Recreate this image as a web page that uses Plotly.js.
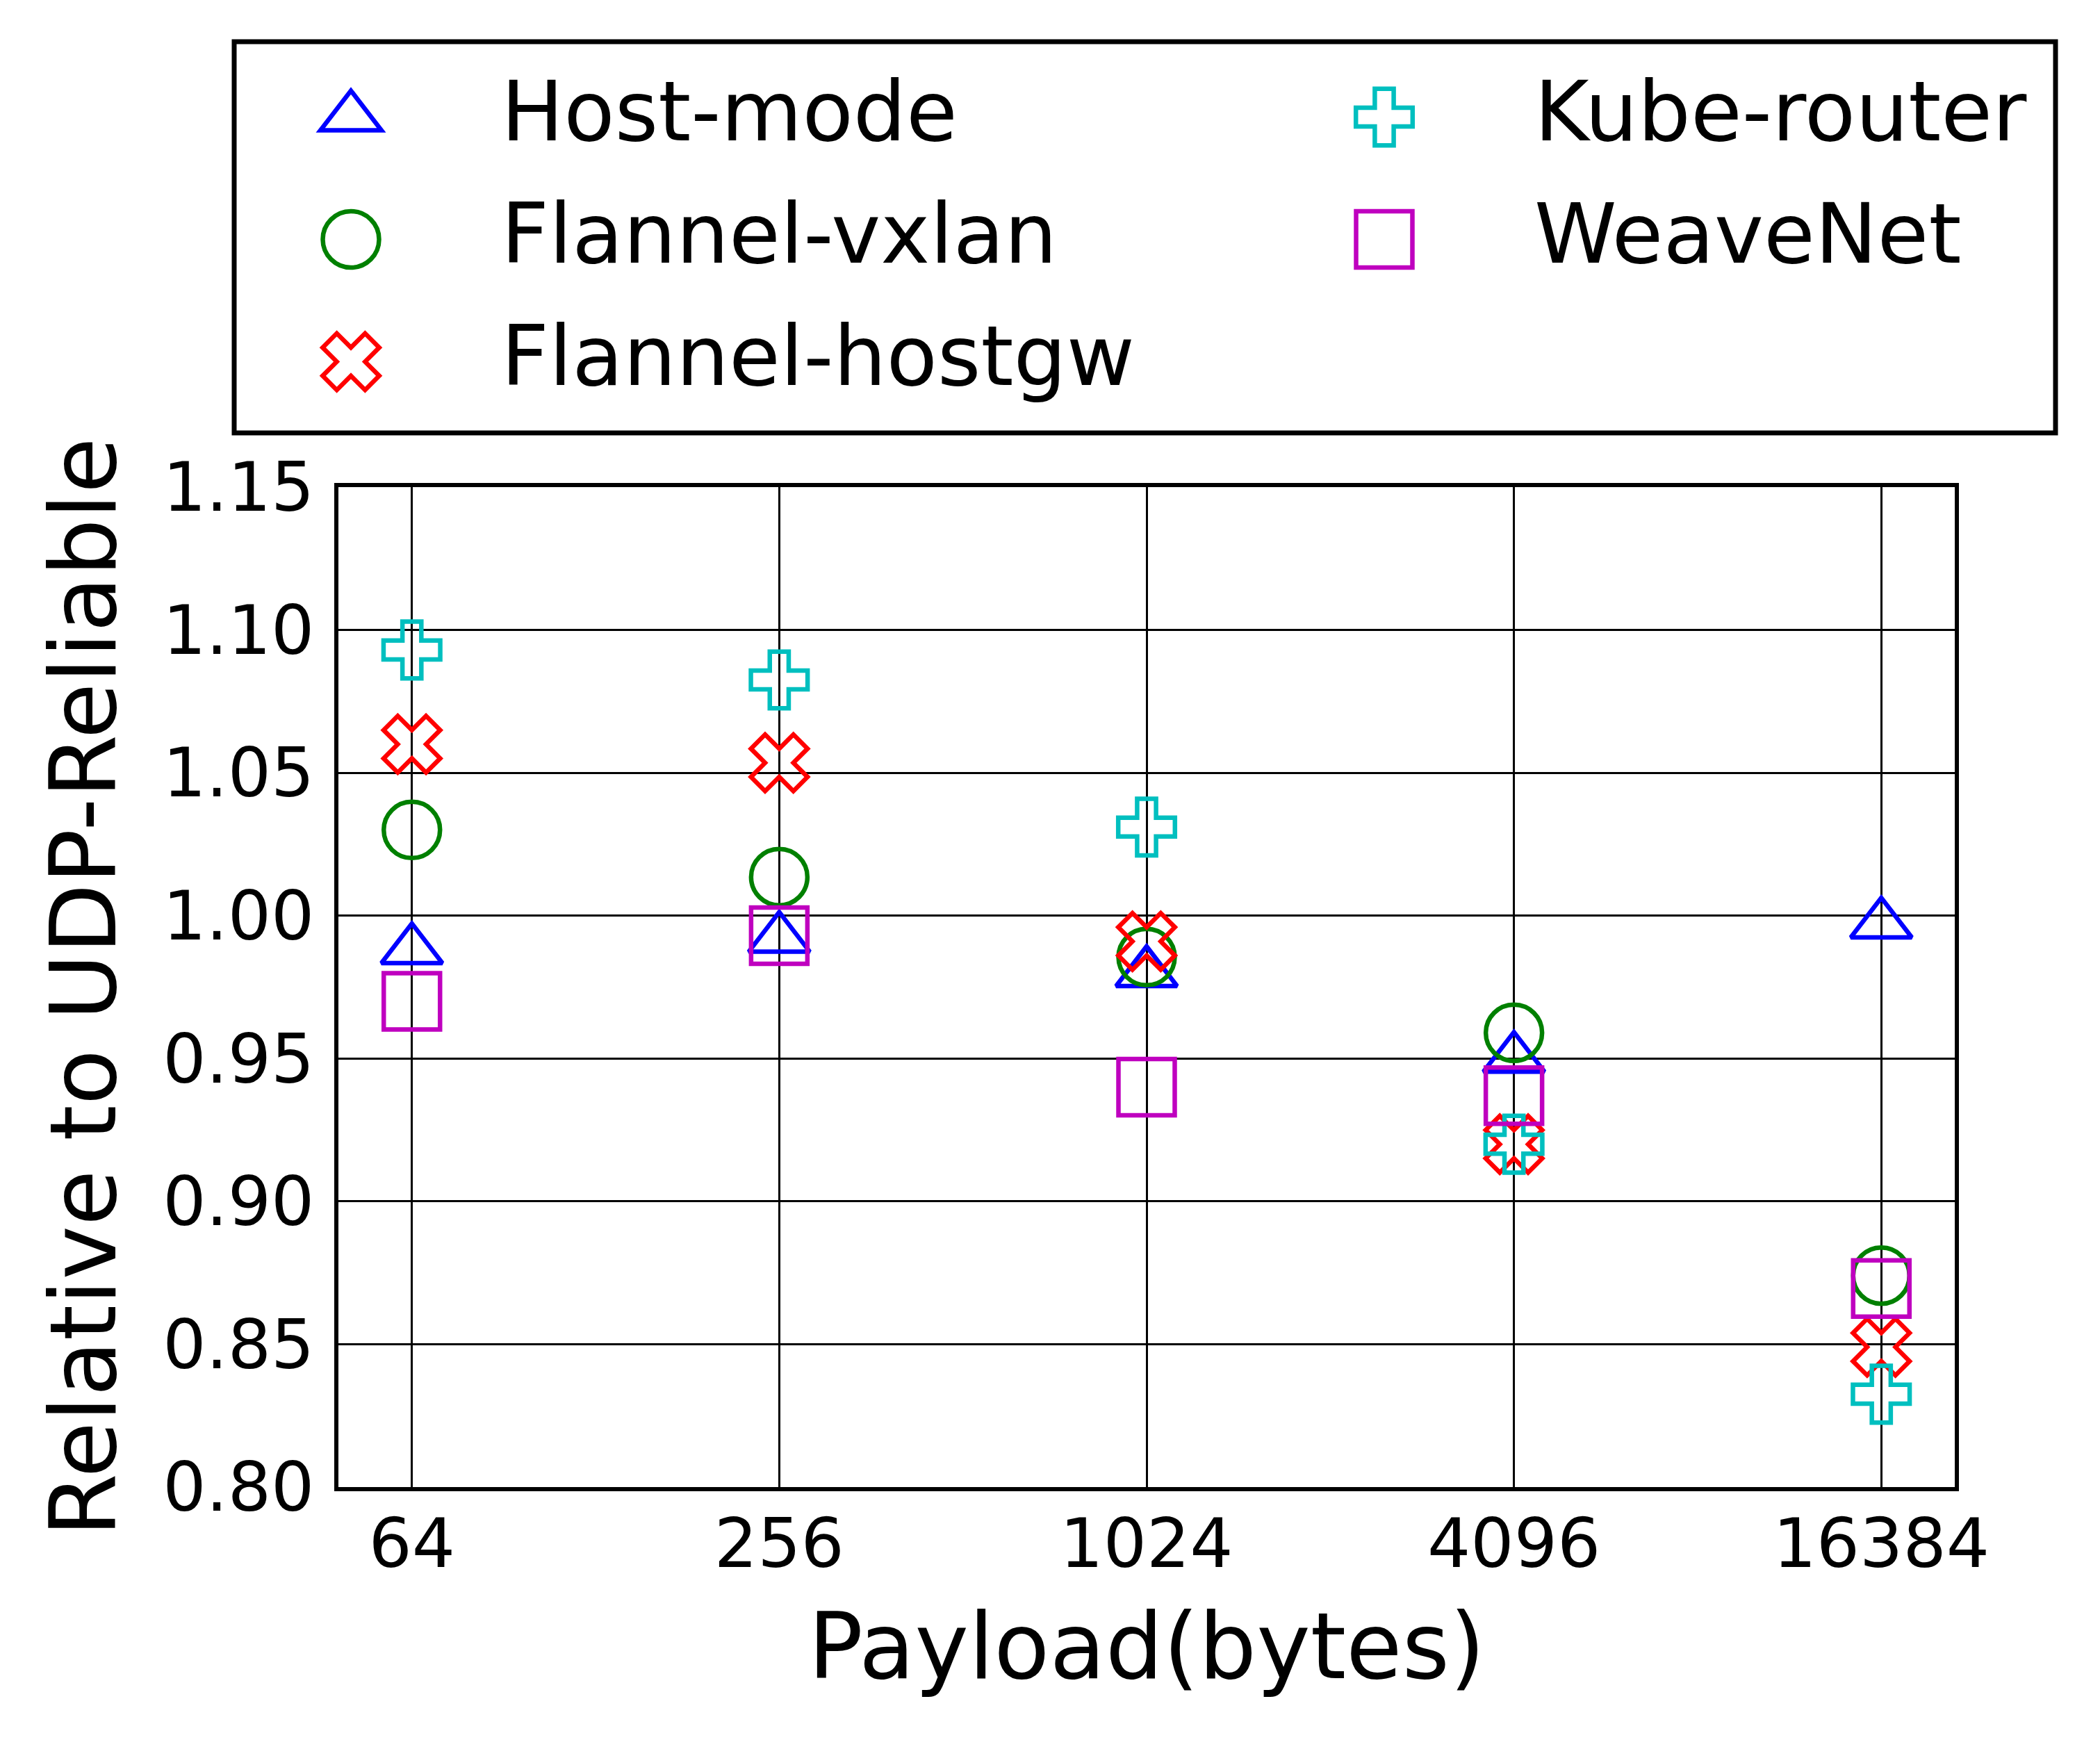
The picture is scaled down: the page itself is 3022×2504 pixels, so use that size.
<!DOCTYPE html>
<html><head><meta charset="utf-8">
<script src="https://cdn.plot.ly/plotly-3.0.1.min.js"></script>
<style>html,body{margin:0;padding:0;background:#fff;}</style>
</head><body>
<div id="chart" style="width:3022px;height:2504px;"></div>
<script>
// ---- data ----
const payloads = ['64', '256', '1024', '4096', '16384'];
const hostMode      = [0.988, 0.992, 0.980, 0.950, 0.997];
const flannelVxlan  = [1.030, 1.0135, 0.9855, 0.959, 0.874];
const flannelHostgw = [1.060, 1.0535, 0.991, 0.920, 0.849];
const kubeRouter    = [1.093, 1.0825, 1.031, 0.920, 0.8325];
const weaveNet      = [0.970, 0.993, 0.940, 0.937, 0.8695];
const seriesNames   = ['Host-mode', 'Flannel-vxlan', 'Flannel-hostgw', 'Kube-router', 'WeaveNet'];
const yTickVals     = [0.80, 0.85, 0.90, 0.95, 1.00, 1.05, 1.10, 1.15];
const xTitle = 'Payload(bytes)';
const yTitle = 'Relative to UDP-Reliable';

const FONT = 'DejaVu Sans, Liberation Sans, sans-serif';
const styles = [
  {symbol: 'triangle-up', size: 76, color: '#0000ff', legend: 'legend'},
  {symbol: 'circle',      size: 81, color: '#008000', legend: 'legend'},
  {symbol: 'x',           size: 72, color: '#ff0000', legend: 'legend'},
  {symbol: 'cross',       size: 68, color: '#00bfbf', legend: 'legend2'},
  {symbol: 'square',      size: 81, color: '#bf00bf', legend: 'legend2'}
];
const values = [hostMode, flannelVxlan, flannelHostgw, kubeRouter, weaveNet];

const traces = values.map((v, i) => ({
  type: 'scatter',
  mode: 'markers',
  name: seriesNames[i],
  x: payloads,
  y: v,
  legend: styles[i].legend,
  legendgroup: 'g' + i,
  marker: {
    symbol: styles[i].symbol,
    size: styles[i].size,
    color: 'rgba(0,0,0,0)',
    line: {color: styles[i].color, width: 6.5}
  },
  cliponaxis: false
}));

const W = 3022, H = 2504;
const L = 487, R = 209, T = 701, B = 364;
const pw = W - L - R, ph = H - T - B;
const px = (X) => (X - L) / pw;
const py = (Y) => (H - B - Y) / ph;

const legendCommon = {
  xanchor: 'left', yanchor: 'top',
  font: {family: FONT, size: 120, color: '#000'},
  itemwidth: 422, tracegroupgap: 17, traceorder: 'grouped',
  bgcolor: 'rgba(0,0,0,0)', borderwidth: 0
};

const layout = {
  width: W, height: H,
  margin: {l: L, r: R, t: T, b: B, autoexpand: false},
  paper_bgcolor: '#fff', plot_bgcolor: '#fff',
  font: {family: FONT, color: '#000'},
  showlegend: true,
  legend: Object.assign({}, legendCommon, {x: px(289), y: py(71)}),
  legend2: Object.assign({}, legendCommon, {x: px(1776), y: py(71)}),
  xaxis: {
    type: 'category', categoryorder: 'array', categoryarray: payloads,
    range: [-0.2, 4.2],
    showgrid: true, gridcolor: '#000', gridwidth: 3,
    showline: true, linecolor: '#000', linewidth: 6, mirror: true,
    ticks: '', ticklabelstandoff: -9,
    tickfont: {family: FONT, size: 98, color: '#000'},
    title: {text: xTitle, font: {family: FONT, size: 131, color: '#000'}, standoff: 49},
    zeroline: false, automargin: false
  },
  yaxis: {
    range: [0.8, 1.15],
    tickvals: yTickVals, tickformat: '.2f',
    showgrid: true, gridcolor: '#000', gridwidth: 3,
    showline: true, linecolor: '#000', linewidth: 6, mirror: true,
    ticks: '', ticklabelstandoff: 9,
    tickfont: {family: FONT, size: 98, color: '#000'},
    title: {text: yTitle, font: {family: FONT, size: 131, color: '#000'}, standoff: 25},
    zeroline: false, automargin: false
  },
  shapes: [{
    type: 'rect', xref: 'paper', yref: 'paper',
    x0: px(337), x1: px(2958), y0: py(623), y1: py(60),
    line: {color: '#000', width: 7}, fillcolor: 'rgba(0,0,0,0)', layer: 'above'
  }]
};

Plotly.newPlot('chart', traces, layout, {staticPlot: true}).then(gd => {
  const plotPaths = {};
  gd.querySelectorAll('.scatterlayer .trace').forEach(g => {
    const d = g.__data__;
    const name = d && d[0] && d[0].trace && d[0].trace.name;
    const p = g.querySelector('path.point');
    if (name && p) plotPaths[name] = p.getAttribute('d');
  });
  gd.querySelectorAll('g.traces').forEach(g => {
    const d = g.__data__;
    const name = d && d[0] && d[0].trace && d[0].trace.name;
    g.querySelectorAll('path.scatterpts').forEach(p => {
      if (plotPaths[name]) p.setAttribute('d', plotPaths[name]);
      p.style.strokeWidth = '6.5px';
      p.setAttribute('transform', (p.getAttribute('transform') || '') + ' translate(0,13)');
    });
  });
});
</script>
</body></html>
